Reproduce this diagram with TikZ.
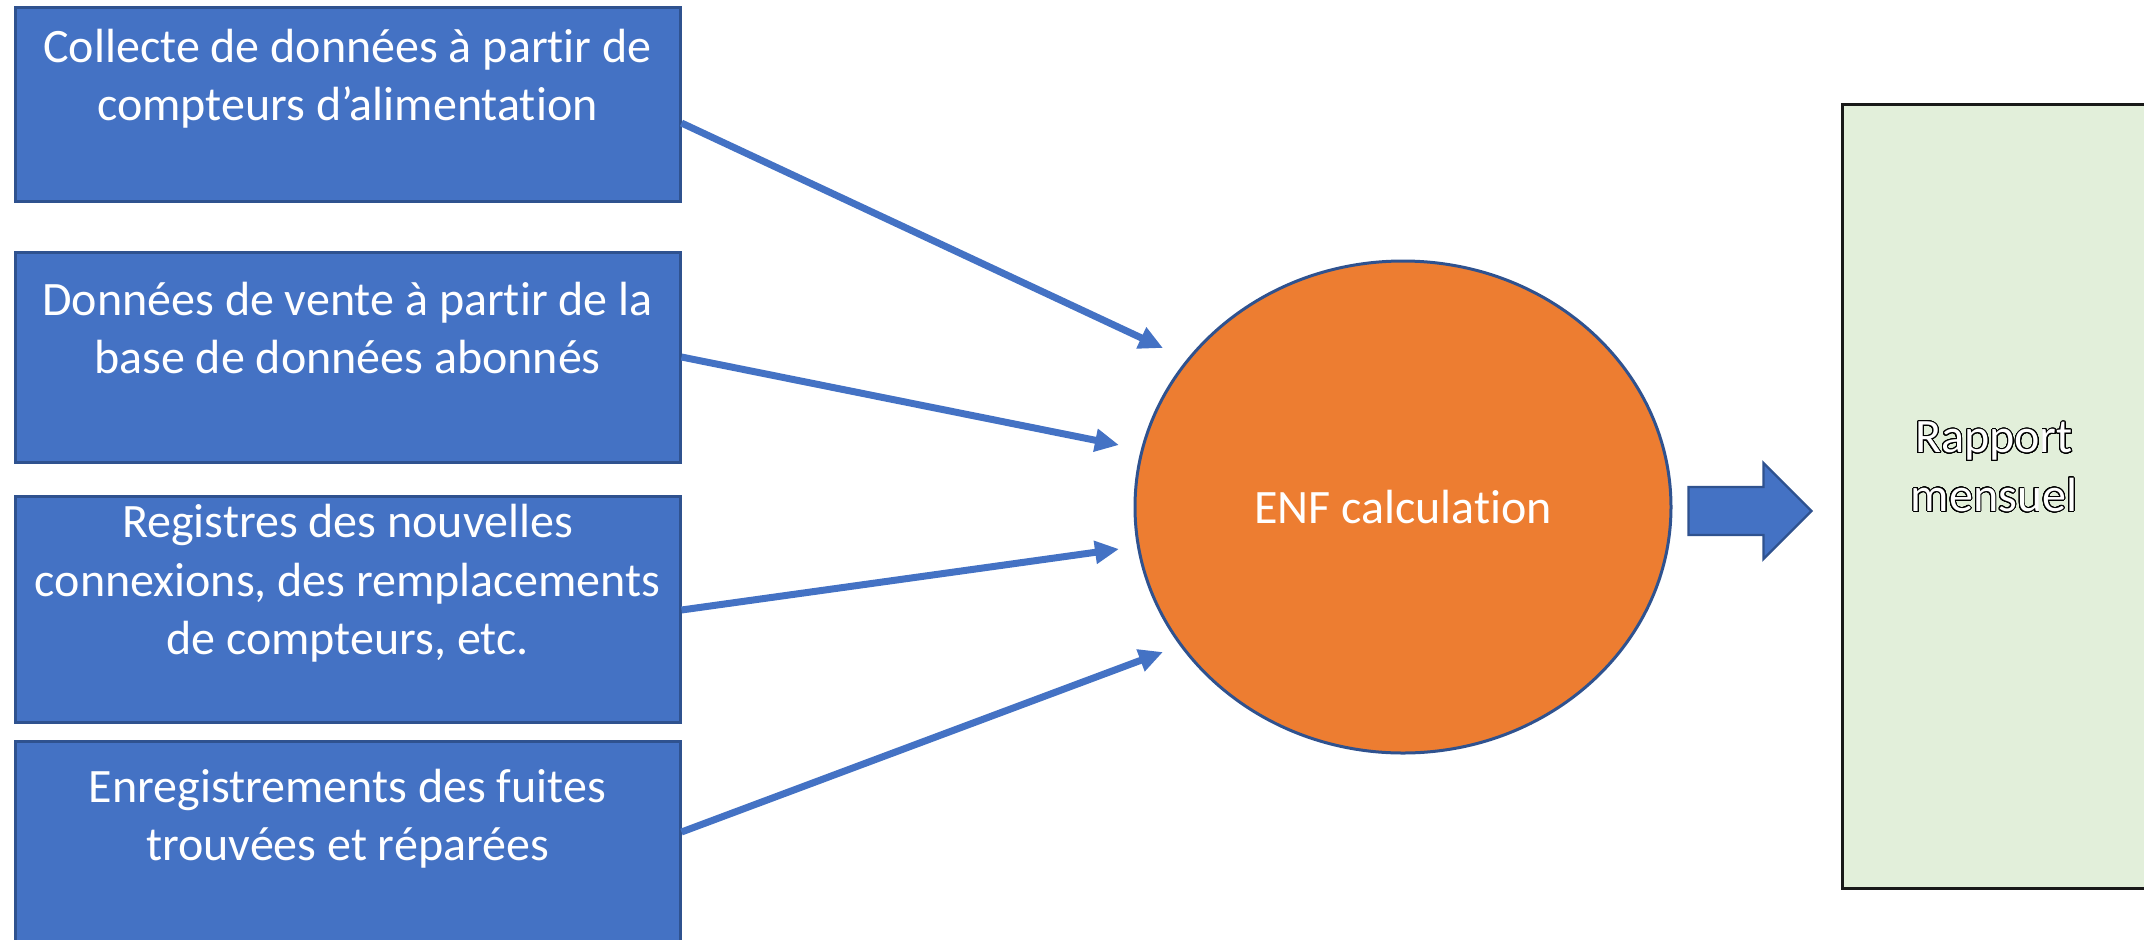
\documentclass[tikz,border=0pt]{standalone}
\usepackage{fontspec}
\setmainfont{Carlito}[Ligatures={NoCommon}]
\usepackage{contour}
\usetikzlibrary{positioning, arrows.meta, calc, shapes.geometric}

\definecolor{boxblue}{HTML}{4472C4}
\definecolor{lineblue}{HTML}{2F528F}
\definecolor{calcorange}{HTML}{ED7D31}
\definecolor{reportgreen}{HTML}{E2EFDA}

\contourlength{0.45pt}
\contournumber{32}

\begin{document}
\begin{tikzpicture}[
    x=0.5pt, y=-0.5pt,
    font=\fontsize{24}{29.3}\selectfont,
    srcbox/.style={rectangle, draw=lineblue, fill=boxblue, line width=1.5pt,
        text=white, align=center, minimum width=332.5pt, inner sep=0pt},
    calcnode/.style={ellipse, draw=lineblue, fill=calcorange, line width=1.5pt,
        text=white, minimum width=268pt, minimum height=246pt, inner sep=0pt},
    reportbox/.style={rectangle, draw=black!90, fill=reportgreen, line width=1.5pt,
        align=center, minimum width=152pt, minimum height=392pt},
    feed/.style={-{Triangle[length=12pt, width=11pt]}, draw=boxblue, line width=3.5pt},
    fatarrow/.style={draw=lineblue, fill=boxblue, line width=1.2pt, line join=miter}
]
\useasboundingbox (0,0) rectangle (2144,939);

% Sources de donnees
\node[srcbox, minimum height=97pt] (src1) at (347.5,104)
    {Collecte de données à partir de\\compteurs d’alimentation\\~};
\node[srcbox, minimum height=105pt] (src2) at (347.5,357)
    {Données de vente à partir de la\\base de données abonnés\\~};
\node[srcbox, minimum height=113pt] (src3) at (347.5,609)
    {Registres des nouvelles\\connexions, des remplacements\\de compteurs, etc.\\~};
\node[srcbox, minimum height=103pt] (src4) at (347.5,844)
    {Enregistrements des fuites\\trouvées et réparées\\~};

% Calcul
\node[calcnode] (enf) at (1403,507) {ENF calculation};

% Rapport
\node[reportbox] (report) at (1994,496)
    {{\color{white}\contour{black}{Rapport}}\\{\color{white}\contour{black}{mensuel}}\\~};

% Pointes des fleches
\coordinate (in1) at (1163,348);
\coordinate (in2) at (1119,445);
\coordinate (in3) at (1119,549);
\coordinate (in4) at (1163,652);

\draw[feed] ([shift={(0,19)}]src1.east) -- (in1);
\draw[feed] (src2.east) -- (in2);
\draw[feed] ([shift={(0,1)}]src3.east) -- (in3);
\draw[feed] ([shift={(0,-12)}]src4.east) -- (in4);

% Grosse fleche vers le rapport
\draw[fatarrow] ([shift={(16,-20)}]enf.east) -- ++(75,0) -- ++(0,-24)
    -- ++(48,48) -- ++(-48,48) -- ++(0,-24) -- ++(-75,0) -- cycle;

\end{tikzpicture}
\end{document}
